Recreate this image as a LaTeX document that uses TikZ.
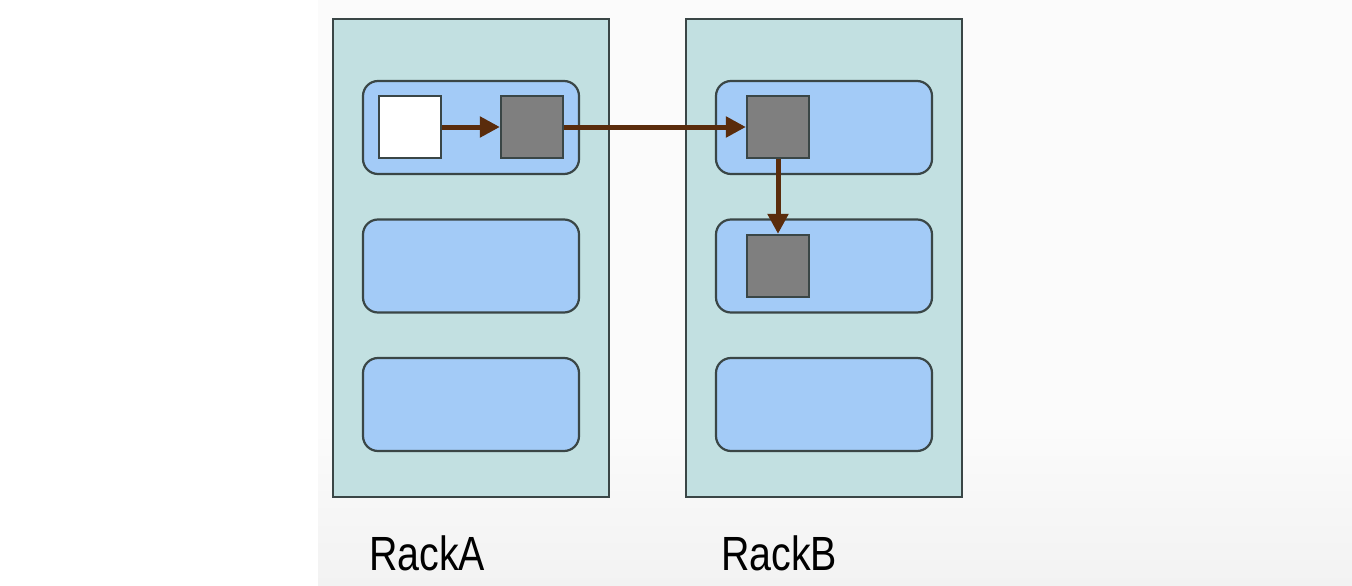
\documentclass[tikz,border=0pt]{standalone}
\usepackage{fontspec}
\setmainfont{Liberation Sans}
\usetikzlibrary{arrows.meta}
\definecolor{rackfill}{HTML}{C2E0E1}
\definecolor{bladefill}{HTML}{A3CBF7}
\definecolor{edge}{HTML}{3A4646}
\definecolor{sqgray}{HTML}{7F7F7F}
\definecolor{arrowc}{HTML}{5A2C0C}
\definecolor{bgA}{HTML}{FBFBFB}
\definecolor{bgB}{HTML}{F2F2F2}
\tikzset{
  rack/.style={draw=edge, line width=2.2pt, fill=rackfill, minimum width=276pt, minimum height=478pt, inner sep=0pt},
  blade/.style={draw=edge, line width=2.2pt, fill=bladefill, rounded corners=15pt, minimum width=216pt, minimum height=93pt, inner sep=0pt},
  task/.style={draw=edge, line width=2.2pt, minimum width=62pt, minimum height=62pt, inner sep=0pt},
  flow/.style={draw=arrowc, line width=5pt, -{Triangle[length=20pt,width=20pt]}},
  racklabel/.style={font=\fontsize{48}{56}\selectfont, inner sep=0pt, text=black}
}
\begin{document}
\begin{tikzpicture}[x=1pt,y=-1pt]
\useasboundingbox (0,0) rectangle (1352,586);
\fill[white] (0,0) rectangle (1352,586);
\fill[bgA] (318,0) rectangle (1352,586);
\shade[top color=bgA, bottom color=bgB] (318,430) rectangle (1352,586);
\node[rack] (rackA) at (471,258) {};
\node[rack] (rackB) at (824,258) {};
\node[blade] (a1) at (471,127.5) {};
\node[blade] (a2) at (471,266) {};
\node[blade] (a3) at (471,404.5) {};
\node[blade] (b1) at (824,127.5) {};
\node[blade] (b2) at (824,266) {};
\node[blade] (b3) at (824,404.5) {};
\node[task, fill=white] (w) at (410,127) {};
\node[task, fill=sqgray] (g1) at (532,127) {};
\node[task, fill=sqgray] (g2) at (778,127) {};
\node[task, fill=sqgray] (g3) at (778,266) {};
\draw[flow] (w.east) -- (g1.west);
\draw[flow] (g1.east) -- (g2.west);
\draw[flow] (g2.south) -- (g3.north);
\node[racklabel] (la) at (427,553) {\scalebox{0.82}[1]{RackA}};
\node[racklabel] (lb) at (779,553) {\scalebox{0.82}[1]{RackB}};
\end{tikzpicture}
\end{document}
